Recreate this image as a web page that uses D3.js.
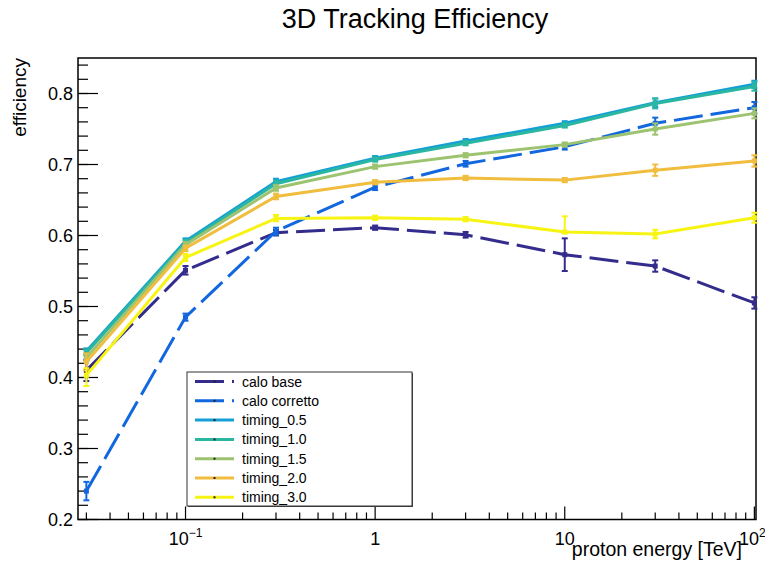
<!DOCTYPE html>
<html>
<head>
<meta charset="utf-8">
<script src="https://cdn.jsdelivr.net/npm/d3@7"></script>
<style>
  body { margin: 0; background: #fff; }
  text { font-family: "Liberation Sans", Arial, sans-serif; }
</style>
</head>
<body>
<div id="chart"></div>
<script>
// proton energies [TeV]
let energies = [0.03, 0.1, 0.3, 1, 3, 10, 30, 100];

// efficiencies
let caloBase     = [0.410, 0.551, 0.604, 0.611, 0.601, 0.573, 0.557, 0.505];
let caloBaseErr  = [0.015, 0.006, 0.004, 0.003, 0.004, 0.023, 0.008, 0.008];
let caloCorr     = [0.240, 0.485, 0.606, 0.668, 0.701, 0.725, 0.758, 0.780];
let caloCorrErr  = [0.013, 0.005, 0.005, 0.004, 0.004, 0.004, 0.008, 0.008];
let timing05     = [0.437, 0.592, 0.676, 0.709, 0.733, 0.758, 0.787, 0.813];
let timing05Err  = [0.004, 0.004, 0.004, 0.003, 0.003, 0.003, 0.006, 0.005];
let timing10     = [0.435, 0.590, 0.673, 0.707, 0.730, 0.755, 0.786, 0.810];
let timing10Err  = [0.004, 0.004, 0.004, 0.003, 0.003, 0.003, 0.007, 0.006];
let timing15     = [0.428, 0.587, 0.667, 0.697, 0.713, 0.728, 0.750, 0.772];
let timing15Err  = [0.005, 0.004, 0.004, 0.003, 0.003, 0.003, 0.008, 0.007];
let timing20     = [0.422, 0.582, 0.655, 0.675, 0.681, 0.678, 0.692, 0.705];
let timing20Err  = [0.012, 0.004, 0.004, 0.003, 0.003, 0.003, 0.008, 0.008];
let timing30     = [0.403, 0.569, 0.624, 0.625, 0.623, 0.605, 0.602, 0.625];
let timing30ErrLo = [0.015, 0.005, 0.004, 0.003, 0.003, 0.002, 0.006, 0.007];
let timing30ErrHi = [0.010, 0.005, 0.005, 0.003, 0.003, 0.022, 0.006, 0.007];

let seriesNames = ["calo base", "calo corretto", "timing_0.5", "timing_1.0", "timing_1.5", "timing_2.0", "timing_3.0"];
let seriesColors = ["#332c8c", "#1367de", "#14a0d6", "#2bb6a2", "#9cc36f", "#f0bd3e", "#f7f414"];
let seriesDashed = [true, true, false, false, false, false, false];

let yTicks = [0.2, 0.3, 0.4, 0.5, 0.6, 0.7, 0.8];

let series = [
  {values: caloBase, lo: caloBaseErr, hi: caloBaseErr},
  {values: caloCorr, lo: caloCorrErr, hi: caloCorrErr},
  {values: timing05, lo: timing05Err, hi: timing05Err},
  {values: timing10, lo: timing10Err, hi: timing10Err},
  {values: timing15, lo: timing15Err, hi: timing15Err},
  {values: timing20, lo: timing20Err, hi: timing20Err},
  {values: timing30, lo: timing30ErrLo, hi: timing30ErrHi}
].map(function (s, i) {
  s.name = seriesNames[i];
  s.color = seriesColors[i];
  s.dashed = seriesDashed[i];
  s.points = energies.map(function (e, j) {
    return {x: e, y: s.values[j], lo: s.lo[j], hi: s.hi[j]};
  });
  return s;
});

//frame
let width = 765, height = 565;
let frame = {left: 78, right: 756, top: 58, bottom: 519.5};

let svg = d3.select("#chart").append("svg")
  .attr("width", width)
  .attr("height", height);

let x = d3.scaleLog().domain([0.0271, 102]).range([frame.left, frame.right]);
let y = d3.scaleLinear().domain([0.2, 0.85]).range([frame.bottom, frame.top]);

//title
svg.append("text")
  .attr("x", 415).attr("y", 28)
  .attr("text-anchor", "middle")
  .style("font-size", "27px")
  .text("3D Tracking Efficiency");

//frame box
svg.append("rect")
  .attr("x", frame.left).attr("y", frame.top)
  .attr("width", frame.right - frame.left)
  .attr("height", frame.bottom - frame.top)
  .attr("fill", "none")
  .attr("stroke", "#000")
  .attr("stroke-width", 1.5);

//y ticks (major every 0.1, minor every 0.02)
let yMinor = d3.range(0.2, 0.851, 0.02);
svg.append("g").selectAll("line")
  .data(yMinor)
  .enter().append("line")
  .attr("x1", frame.left).attr("x2", frame.left + 10)
  .attr("y1", d => y(d)).attr("y2", d => y(d))
  .attr("stroke", "#000").attr("stroke-width", 1.2);

svg.append("g").selectAll("line")
  .data(yTicks)
  .enter().append("line")
  .attr("x1", frame.left).attr("x2", frame.left + 20)
  .attr("y1", d => y(d)).attr("y2", d => y(d))
  .attr("stroke", "#000").attr("stroke-width", 1.2);

svg.append("g").selectAll("text")
  .data(yTicks)
  .enter().append("text")
  .attr("x", frame.left - 5)
  .attr("y", d => y(d) + 6.5)
  .attr("text-anchor", "end")
  .style("font-size", "18px")
  .text(d => d.toFixed(1));

//x ticks: log decades with minor ticks
let xMinor = [];
[0.01, 0.1, 1, 10].forEach(function (dec) {
  for (let k = 2; k <= 9; k++) {
    let v = dec * k;
    if (v >= x.domain()[0] && v <= x.domain()[1]) xMinor.push(v);
  }
});
let xMajor = [0.1, 1, 10, 100];

svg.append("g").selectAll("line")
  .data(xMinor)
  .enter().append("line")
  .attr("x1", d => x(d)).attr("x2", d => x(d))
  .attr("y1", frame.bottom).attr("y2", frame.bottom - 7)
  .attr("stroke", "#000").attr("stroke-width", 1.2);

svg.append("g").selectAll("line")
  .data(xMajor)
  .enter().append("line")
  .attr("x1", d => x(d)).attr("x2", d => x(d))
  .attr("y1", frame.bottom).attr("y2", frame.bottom - 13)
  .attr("stroke", "#000").attr("stroke-width", 1.2);

//x tick labels (10^-1, 1, 10, 10^2)
let xLabels = [
  {v: 0.1, base: "10", sup: "\u22121"},
  {v: 1, base: "1", sup: ""},
  {v: 10, base: "10", sup: ""},
  {v: 100, base: "10", sup: "2"}
];
let xl = svg.append("g").selectAll("text")
  .data(xLabels)
  .enter().append("text")
  .attr("x", d => x(d.v) - (d.v === 100 ? 2 : 0))
  .attr("y", 545)
  .attr("text-anchor", "middle")
  .style("font-size", "18px");
xl.append("tspan").text(d => d.base);
xl.append("tspan")
  .attr("dy", -8)
  .style("font-size", "12px")
  .text(d => d.sup);

//axis titles
svg.append("text")
  .attr("x", 742).attr("y", 556)
  .attr("text-anchor", "end")
  .style("font-size", "19.5px")
  .text("proton energy [TeV]");

svg.append("text")
  .attr("transform", "translate(26," + frame.top + ") rotate(-90)")
  .attr("text-anchor", "end")
  .style("font-size", "19px")
  .text("efficiency");

//series
let line = d3.line()
  .x(d => x(d.x))
  .y(d => y(d.y));

let gs = svg.append("g").selectAll("g")
  .data(series)
  .enter().append("g");

gs.append("path")
  .attr("d", d => line(d.points))
  .attr("fill", "none")
  .attr("stroke", d => d.color)
  .attr("stroke-width", 3)
  .attr("stroke-dasharray", d => d.dashed ? "29,8" : null);

//error bars
gs.each(function (s) {
  let g = d3.select(this);
  let eb = g.selectAll(".err")
    .data(s.points)
    .enter().append("g").attr("class", "err");
  eb.append("line")
    .attr("x1", d => x(d.x)).attr("x2", d => x(d.x))
    .attr("y1", d => y(d.y - d.lo)).attr("y2", d => y(d.y + d.hi))
    .attr("stroke", s.color).attr("stroke-width", 2);
  eb.append("line")
    .attr("x1", d => x(d.x) - 3).attr("x2", d => x(d.x) + 3)
    .attr("y1", d => y(d.y - d.lo)).attr("y2", d => y(d.y - d.lo))
    .attr("stroke", s.color).attr("stroke-width", 2);
  eb.append("line")
    .attr("x1", d => x(d.x) - 3).attr("x2", d => x(d.x) + 3)
    .attr("y1", d => y(d.y + d.hi)).attr("y2", d => y(d.y + d.hi))
    .attr("stroke", s.color).attr("stroke-width", 2);
  eb.append("rect")
    .attr("x", d => x(d.x) - 2.5).attr("y", d => y(d.y) - 2.5)
    .attr("width", 5).attr("height", 5)
    .attr("fill", s.color);
});

//legend
let legend = {x: 187, y: 372, w: 225, h: 134, row: 19.3};
svg.append("rect")
  .attr("x", legend.x + 1).attr("y", legend.y + 1)
  .attr("width", legend.w).attr("height", legend.h)
  .attr("fill", "#444");
svg.append("rect")
  .attr("x", legend.x).attr("y", legend.y)
  .attr("width", legend.w).attr("height", legend.h)
  .attr("fill", "#fff")
  .attr("stroke", "#333").attr("stroke-width", 1);

let lg = svg.append("g").selectAll("g")
  .data(series)
  .enter().append("g")
  .attr("transform", (d, i) => "translate(0," + (legend.y + 9.5 + i * legend.row) + ")");

lg.append("line")
  .attr("x1", 195).attr("x2", 234)
  .attr("y1", 0).attr("y2", 0)
  .attr("stroke", d => d.color)
  .attr("stroke-width", 3)
  .attr("stroke-dasharray", d => d.dashed ? "29,8" : null);

lg.append("rect")
  .attr("x", 213.5).attr("y", -1)
  .attr("width", 2).attr("height", 2)
  .attr("fill", "#222");

lg.append("text")
  .attr("x", 242)
  .attr("y", 5)
  .style("font-size", "14px")
  .text(d => d.name);
</script>
</body>
</html>
